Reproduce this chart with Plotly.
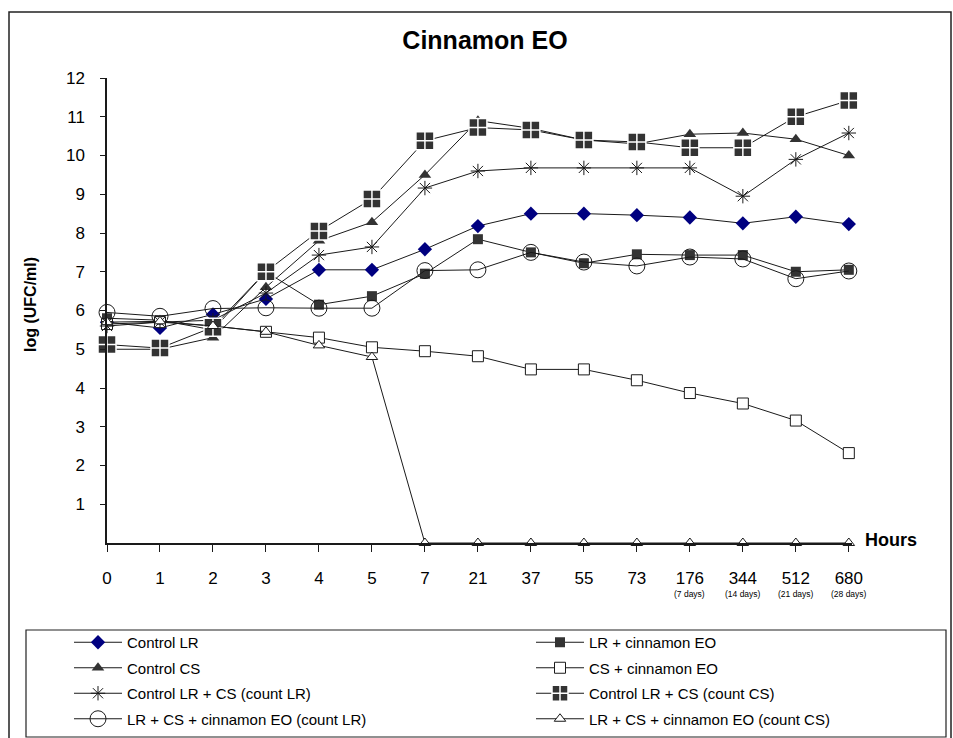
import plotly.graph_objects as go

# ---------------- data ----------------
hours = ["0", "1", "2", "3", "4", "5", "7", "21", "37", "55", "73", "176", "344", "512", "680"]
day_notes = {11: "(7 days)", 12: "(14 days)", 13: "(21 days)", 14: "(28 days)"}

control_lr = [5.7, 5.55, 5.9, 6.3, 7.05, 7.05, 7.58, 8.18, 8.5, 8.5, 8.46, 8.4, 8.25, 8.42, 8.23]
lr_eo = [5.8, 5.75, 5.5, 7.0, 6.15, 6.37, 6.95, 7.84, 7.5, 7.22, 7.45, 7.43, 7.43, 7.0, 7.05]
control_cs = [5.0, 5.0, 5.3, 6.6, 7.8, 8.28, 9.5, 10.9, 10.7, 10.4, 10.3, 10.55, 10.58, 10.42, 10.0]
cs_eo = [5.65, 5.7, 5.6, 5.45, 5.3, 5.05, 4.95, 4.82, 4.48, 4.48, 4.2, 3.87, 3.6, 3.16, 2.32]
lrcs_count_lr = [5.6, 5.7, 5.75, 6.45, 7.43, 7.64, 9.16, 9.6, 9.68, 9.68, 9.68, 9.68, 8.95, 9.9, 10.58]
lrcs_count_cs = [5.12, 5.03, 5.57, 7.0, 8.05, 8.88, 10.38, 10.72, 10.66, 10.4, 10.35, 10.2, 10.2, 11.0, 11.42]
lrcs_eo_count_lr = [5.95, 5.85, 6.05, 6.07, 6.06, 6.06, 7.03, 7.05, 7.5, 7.25, 7.15, 7.38, 7.33, 6.82, 7.02]
lrcs_eo_count_cs = [5.7, 5.72, 5.6, 5.45, 5.1, 4.8, 0, 0, 0, 0, 0, 0, 0, 0, 0]

y_ticks = list(range(1, 13))

# ---------------- layout geometry ----------------
W, H = 953, 738
L, R, T, B = 107, 101, 78, 195
PW, PH = W - L - R, H - T - B


def px_x(px):
    return (px - L) / PW


def px_y(py):
    return (H - B - py) / PH


xi = list(range(len(hours)))
DARK = "#333333"
LINE = dict(color="#1a1a1a", width=1)

# (name, values, marker, legend column)
series = [
    ("Control LR", control_lr, dict(symbol="diamond", size=11, color="#000080", line=dict(width=0)), "legend"),
    ("LR + cinnamon EO", lr_eo, dict(symbol="square", size=10, color=DARK, line=dict(width=0)), "legend2"),
    ("Control CS", control_cs, dict(symbol="triangle-up", size=11, color=DARK, line=dict(width=0)), "legend"),
    ("CS + cinnamon EO", cs_eo, dict(symbol="square", size=11, color="white", line=dict(color="#1a1a1a", width=1)), "legend2"),
    ("Control LR + CS (count LR)", lrcs_count_lr, dict(symbol="asterisk-open", size=12, color="#1a1a1a", line=dict(color="#1a1a1a", width=1)), "legend"),
    ("Control LR + CS (count CS)", lrcs_count_cs, dict(symbol="square-cross", size=18, color=DARK, line=dict(color="white", width=1.5)), "legend2"),
    ("LR + CS + cinnamon EO (count LR)", lrcs_eo_count_lr, dict(symbol="circle-open", size=16, color="#1a1a1a", line=dict(color="#1a1a1a", width=1)), "legend"),
    ("LR + CS + cinnamon EO (count CS)", lrcs_eo_count_cs, dict(symbol="triangle-up", size=10, color="white", line=dict(color="#1a1a1a", width=1)), "legend2"),
]

fig = go.Figure()
for name, ys, mk, lg in series:
    fig.add_trace(go.Scatter(x=xi, y=ys, name=name, mode="lines+markers", legend=lg, legendgroup=name,
                             line=LINE, marker=mk, cliponaxis=False))

annotations = []
for k, note in day_notes.items():
    annotations.append(dict(x=k, y=0, xref="x", yref="y", text=note, showarrow=False,
                            yshift=-51, font=dict(size=8.5, family="Liberation Sans", color="black")))
annotations.append(dict(x=14, y=0, xref="x", yref="y", text="<b>Hours</b>", showarrow=False,
                        xanchor="left", xshift=14, yshift=3,
                        font=dict(size=18, family="Liberation Sans", color="black")))
annotations.append(dict(x=px_x(30), y=px_y(305), xref="paper", yref="paper", text="<b>log (UFC/ml)</b>",
                        showarrow=False, textangle=-90, xanchor="center", yanchor="middle",
                        font=dict(size=16, family="Liberation Sans", color="black")))

shapes = [
    dict(type="rect", xref="paper", yref="paper", x0=px_x(9), x1=px_x(951), y0=px_y(745), y1=px_y(12),
         line=dict(color="#222222", width=1.5), fillcolor="rgba(0,0,0,0)", layer="below"),
    dict(type="rect", xref="paper", yref="paper", x0=px_x(26), x1=px_x(946), y0=px_y(737), y1=px_y(630),
         line=dict(color="#222222", width=1.2), fillcolor="white", layer="below"),
]

legend_common = dict(orientation="v", yanchor="top", xanchor="left", itemwidth=48,
                     bgcolor="rgba(0,0,0,0)", borderwidth=0, tracegroupgap=3,
                     font=dict(size=15, family="Liberation Sans", color="black"))

fig.update_layout(
    width=W, height=H,
    margin=dict(l=L, r=R, t=T, b=B, autoexpand=False),
    paper_bgcolor="white", plot_bgcolor="white",
    font=dict(family="Liberation Sans", color="black"),
    title=dict(text="<b>Cinnamon EO</b>", x=485 / W, xref="container", y=1 - 40 / H, yref="container",
               xanchor="center", yanchor="middle", font=dict(size=25, color="black", family="Liberation Sans")),
    xaxis=dict(range=[0, 14.06], tickmode="array", tickvals=xi, ticktext=hours,
               showgrid=False, zeroline=False, showline=True, linecolor="#1a1a1a", linewidth=1.5,
               ticks="outside", ticklen=7, tickcolor="#1a1a1a", ticklabelstandoff=12,
               tickfont=dict(size=17, family="Liberation Sans", color="black")),
    yaxis=dict(range=[0, 12], tickmode="array", tickvals=y_ticks,
               showgrid=False, zeroline=False, showline=True, linecolor="#1a1a1a", linewidth=1.5,
               ticks="outside", ticklen=5, tickcolor="#1a1a1a", ticklabelstandoff=12,
               tickfont=dict(size=17, family="Liberation Sans", color="black")),
    showlegend=True,
    legend=dict(x=px_x(69), y=px_y(626), **legend_common),
    legend2=dict(x=px_x(531), y=px_y(626), **legend_common),
    annotations=annotations,
    shapes=shapes,
)

fig.write_html("out.html", config={"displayModeBar": False},
               post_script="document.body.style.margin='0px';")
